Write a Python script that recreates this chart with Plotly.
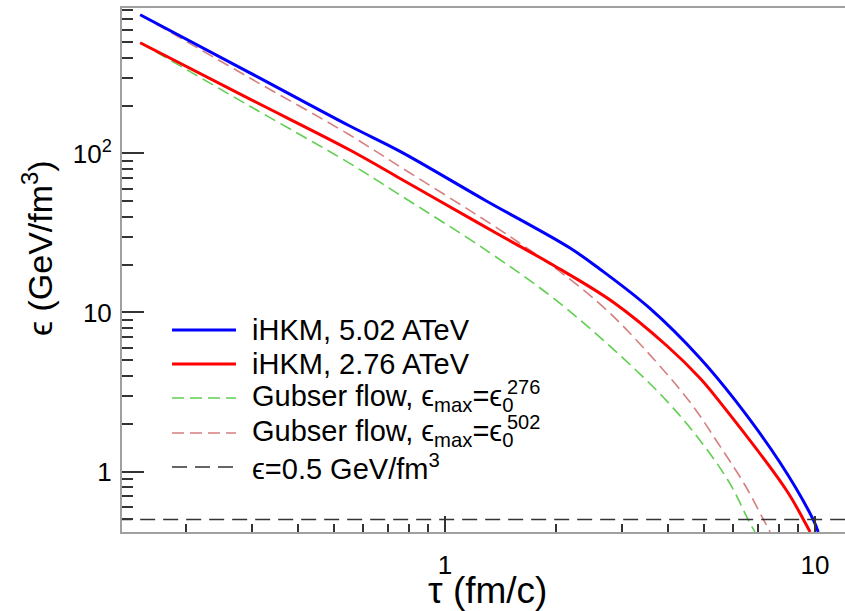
import plotly.graph_objects as go

# Energy density at the centre of the fireball vs proper time
tau_502 = [0.15, 0.297, 0.553, 0.756, 1.283, 2.177, 2.624, 3.58, 4.89, 6.08, 8.04, 9.88, 10.2]
eps_502 = [744, 321, 148.6, 103, 50.8, 25.4, 18.7, 10.6, 5.16, 2.81, 1.14, 0.50, 0.417]

tau_276 = [0.15, 0.297, 0.553, 0.756, 0.959, 1.408, 1.963, 2.85, 3.97, 4.89, 5.48, 8.37, 9.30, 9.70]
eps_276 = [496, 219.5, 105, 69.6, 50.8, 30.6, 19.8, 11.6, 6.2, 3.86, 2.81, 0.763, 0.50, 0.417]

tau_gub276 = [0.15, 0.297, 0.553, 0.756, 1.296, 1.963, 2.79, 3.89, 4.89, 5.89, 6.59, 6.88]
eps_gub276 = [496, 198, 86.5, 54.7, 24.5, 12.3, 6.14, 2.93, 1.57, 0.84, 0.50, 0.417]

tau_gub502 = [0.15, 0.297, 0.553, 0.756, 1.323, 1.697, 2.137, 2.624, 3.16, 4.55, 5.54, 6.47, 7.25, 7.56]
eps_gub502 = [744, 297.6, 130.4, 82.4, 36.3, 24.6, 16.7, 11.3, 7.41, 2.81, 1.44, 0.82, 0.50, 0.417]

eps_freeze = 0.5
tau_span = [0.13, 13.0]

legend_labels = [
    "iHKM, 5.02 ATeV",
    "iHKM, 2.76 ATeV",
    "Gubser flow, ϵ<sub>max</sub>=ϵ<sub>0</sub>",
    "Gubser flow, ϵ<sub>max</sub>=ϵ<sub>0</sub>",
    "ϵ=0.5 GeV/fm<sup>3</sup>",
]
legend_sup = [None, None, "276", "502", None]

x_tickvals = [1, 10]
x_ticktext = ["1", "10"]
y_tickvals = [1, 10, 100]
y_ticktext = ["1", "10", "10<sup>2</sup>"]
x_minor = [0.2, 0.3, 0.4, 0.5, 0.6, 0.7, 0.8, 0.9, 2, 3, 4, 5, 6, 7, 8, 9]
y_minor = [0.5, 0.6, 0.7, 0.8, 0.9, 2, 3, 4, 5, 6, 7, 8, 9,
           20, 30, 40, 50, 60, 70, 80, 90, 200, 300, 400, 500, 600, 700, 800]

W, H = 845, 611
ML, MR, MT, MB = 122, 0, 8, 79
FONT = "Liberation Sans, Arial, Helvetica, sans-serif"


def px(x):
    return (x - ML) / (W - ML - MR)


def py(y):
    return (H - MB - y) / (H - MT - MB)


styles = [
    dict(color="#0000ff", width=3, dash="solid"),
    dict(color="#ff0000", width=3, dash="solid"),
    dict(color="#5fcf50", width=1.6, dash="12px,6px"),
    dict(color="#d77f7f", width=1.6, dash="12px,6px"),
    dict(color="#333333", width=1.6, dash="15px,8px"),
]

fig = go.Figure()
series = [(tau_502, eps_502), (tau_276, eps_276), (tau_gub276, eps_gub276), (tau_gub502, eps_gub502)]
for i in [3, 2, 1, 0]:
    t, e = series[i]
    fig.add_trace(go.Scatter(x=t, y=e, mode="lines", line=dict(shape="spline", smoothing=1.0, **styles[i]),
                             showlegend=False, hoverinfo="skip"))
fig.add_trace(go.Scatter(x=tau_span, y=[eps_freeze, eps_freeze], mode="lines", line=styles[4],
                         showlegend=False, hoverinfo="skip"))

# hand-placed legend box
rows = [330, 364, 398, 433, 467]
LEG_FS = 29
for i, (label, yrow) in enumerate(zip(legend_labels, rows)):
    st = styles[i]
    fig.add_shape(type="line", xref="paper", yref="paper", x0=px(172), x1=px(236), y0=py(yrow), y1=py(yrow),
                  line=dict(color=st["color"], width=st["width"], dash=st["dash"]))
    fig.add_annotation(xref="paper", yref="paper", x=px(250), y=py(yrow), text=label, showarrow=False,
                       xanchor="left", yanchor="middle", font=dict(size=LEG_FS, color="black", family=FONT))
    if legend_sup[i]:
        # superscript stacked above the subscript 0
        fig.add_annotation(xref="paper", yref="paper", x=px(505), y=py(yrow - 11), text=legend_sup[i],
                           showarrow=False, xanchor="left", yanchor="middle",
                           font=dict(size=20, color="black", family=FONT))

fig.add_annotation(xref="paper", yref="paper", x=px(487), y=py(590), text="τ (fm/c)", showarrow=False,
                   xanchor="center", yanchor="middle", font=dict(size=37, color="black", family=FONT))
fig.add_annotation(xref="paper", yref="paper", x=px(37), y=py(248), text="ϵ (GeV/fm<sup>3</sup>)",
                   showarrow=False, textangle=-90, xanchor="center", yanchor="middle",
                   font=dict(size=34, color="black", family=FONT))

fig.update_layout(
    width=W, height=H, margin=dict(l=ML, r=MR, t=MT, b=MB),
    plot_bgcolor="white", paper_bgcolor="white",
    font=dict(family=FONT, color="black"),
    xaxis=dict(type="log", range=[-0.873, 1.081], showgrid=False, zeroline=False,
               showline=True, linecolor="#a0a0a0", linewidth=2, mirror=True,
               ticks="inside", ticklen=16, tickwidth=1.5, tickcolor="#333333",
               tickmode="array", tickvals=x_tickvals, ticktext=x_ticktext,
               tickfont=dict(size=26), ticklabelstandoff=9,
               minor=dict(ticks="inside", ticklen=8, tickwidth=1.5, tickcolor="#333333",
                          tickmode="array", tickvals=x_minor, showgrid=False)),
    yaxis=dict(type="log", range=[-0.380, 2.914], showgrid=False, zeroline=False,
               showline=True, linecolor="#a0a0a0", linewidth=2,
               ticks="inside", ticklen=22, tickwidth=1.5, tickcolor="#333333",
               tickmode="array", tickvals=y_tickvals, ticktext=y_ticktext,
               tickfont=dict(size=26), ticklabelstandoff=3,
               minor=dict(ticks="inside", ticklen=11, tickwidth=1.5, tickcolor="#333333",
                          tickmode="array", tickvals=y_minor, showgrid=False)),
)

fig.write_html("out.html")
